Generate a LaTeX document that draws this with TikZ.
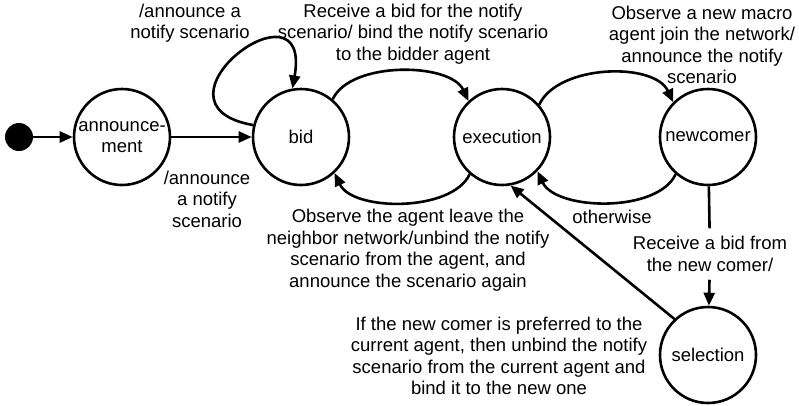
\documentclass[tikz,border=0pt]{standalone}
\usepackage{fontspec}
\setmainfont{Liberation Sans}
\usetikzlibrary{arrows.meta,positioning}
\tikzset{
	etat/.style={circle, draw, line width=2.6pt, minimum size=96pt, inner sep=0pt, align=center},
	lbl/.style={align=center, inner sep=2pt},
	trans/.style={line width=2.6pt, -{Triangle[length=13pt,width=11pt]}},
	ligne/.style={line width=2.6pt}
}
\begin{document}
\begin{tikzpicture}[x=1pt, y=-1pt, font=\fontsize{18.5}{21.5}\selectfont]
		\useasboundingbox (0,0) rectangle (799,405);
		\node[circle, fill, minimum size=28pt, inner sep=0pt] (Init) at (19,137) {};
		\node[etat] (Announce) at (122,137) {announce-\\ment};
		\node[etat, on grid, right=179pt of Announce] (Bid) {bid};
		\node[etat, on grid, right=201pt of Bid] (Execution) {execution};
		\node[etat, on grid, right=206pt of Execution] (Newcomer) {newcomer};
		\node[etat, on grid, below=218pt of Newcomer] (Selection) {selection};
		
		\node[lbl] (LblLoop) at (190,23) {/announce a\\notify scenario};
		\node[lbl] (LblAnnounce) at (207,199) {/announce\\a notify\\scenario};
		\node[lbl] (LblBind) at (413,34) {Receive a bid for the notify\\scenario/ bind the notify scenario\\to the bidder agent};
		\node[lbl] (LblJoin) at (702,45) {Observe a new macro\\agent join the network/\\announce the notify\\scenario};
		\node[lbl] (LblLeave) at (408,250) {Observe the agent leave the\\neighbor network/unbind the notify\\scenario from the agent, and\\announce the scenario again};
		\node[lbl] (LblOther) at (612,217) {otherwise};
		\node[lbl, inner sep=8pt] (LblRecv) at (710,254) {Receive a bid from\\the new comer/};
		\node[lbl] (LblPrefer) at (499,356) {If the new comer is preferred to the\\current agent, then unbind the notify\\scenario from the current agent and\\bind it to the new one};
		
		\draw[trans] (Init) -- (Announce);
		\draw[trans] (Announce) -- (Bid);
		\draw[trans] (Bid.166) to[out=170, in=80, looseness=5.6] (Bid.100);
		\draw[trans] (Bid.50) to[out=65, in=115, looseness=0.8] (Execution.133);
		\draw[trans] (Execution.41) to[out=65, in=115, looseness=0.85] (Newcomer.135);
		\draw[trans] (Newcomer.229) to[out=-115, in=-65, looseness=0.8] (Execution.-44);
		\draw[trans] (Execution.229) to[out=-115, in=-65, looseness=0.8] (Bid.-47);
		\draw[ligne] (Newcomer) -- (LblRecv);
		\draw[trans] (LblRecv) -- (Selection);
		\draw[trans] (Selection.133) -- (Execution.-80);
	\end{tikzpicture}
\end{document}
